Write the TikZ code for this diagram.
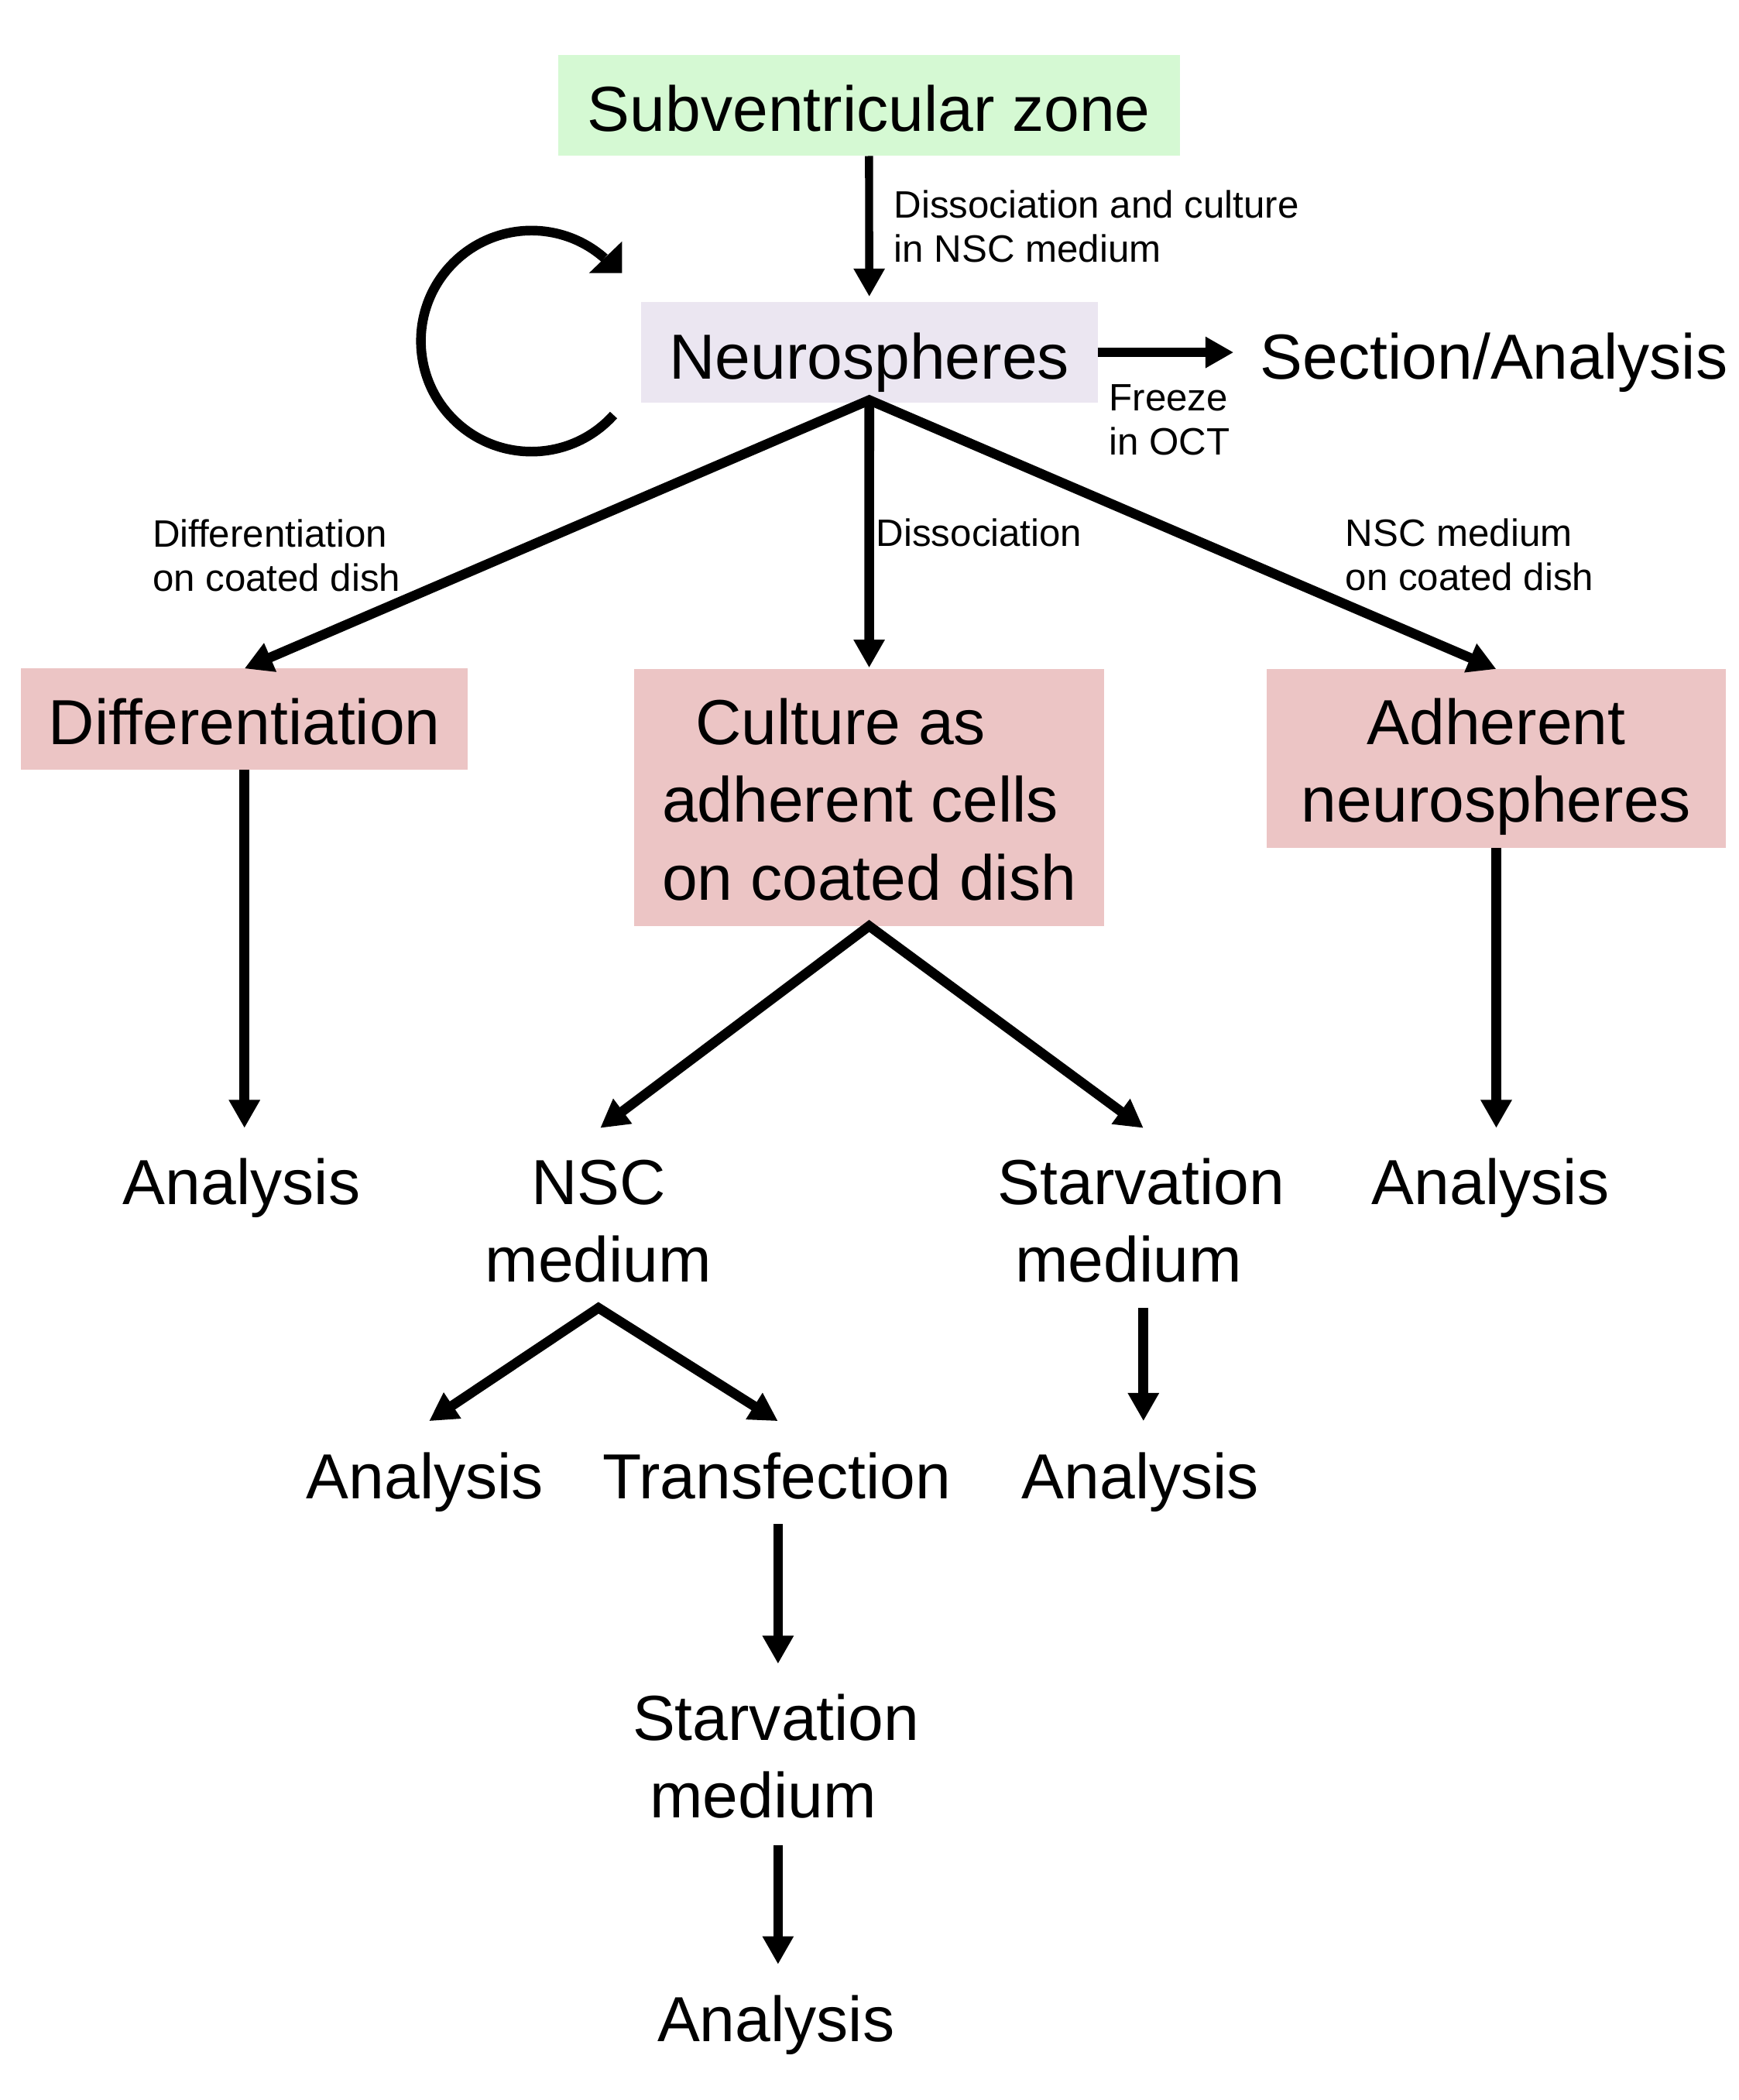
\documentclass[tikz,border=0pt]{standalone}
\usepackage{fontspec}
\setmainfont{Liberation Sans}
\usetikzlibrary{arrows.meta}
\definecolor{svzgreen}{HTML}{D5F9D3}
\definecolor{nslav}{HTML}{EBE6F1}
\definecolor{boxpink}{HTML}{ECC5C5}
\newcommand{\myBigFont}{\fontsize{47.6}{58}\selectfont}
\newcommand{\mySmallFont}{\fontsize{28.5}{33}\selectfont}
\newcommand{\cLines}[1]{\begin{tabular}[t]{@{}c@{}}#1\end{tabular}}
\newcommand{\lLines}[1]{\begin{tabular}[t]{@{}l@{}}#1\end{tabular}}
\begin{document}
\begin{tikzpicture}[x=1pt,y=-1pt,
  boxnode/.style={inner sep=0pt, outer sep=0pt, anchor=base, font=\myBigFont},
  bigtext/.style={inner sep=0pt, outer sep=0pt, anchor=base, font=\myBigFont},
  smalllabel/.style={inner sep=0pt, outer sep=0pt, anchor=base west, font=\mySmallFont},
  tipshape/.style={-{Triangle[length=21pt,width=22pt]}},
  bothtips/.style={{Triangle[length=21pt,width=22pt]}-{Triangle[length=21pt,width=22pt]}},
  thickline/.style={line width=7.3pt},
  thinline/.style={line width=6pt}
]
\useasboundingbox (0,0) rectangle (1299.7,1569.4);

% ---------- boxes ----------
\node[boxnode, fill=svzgreen, minimum width=465pt, text height=57.1pt, text depth=18.7pt]
  (svz) at (649.5,97.9) {Subventricular zone};
\node[boxnode, fill=nslav, minimum width=341.4pt, text height=57.3pt, text depth=18pt]
  (neuro) at (649.7,283) {Neurospheres};
\node[boxnode, fill=boxpink, minimum width=334.2pt, text height=56.9pt, text depth=18.9pt]
  (diff) at (182.7,556.5) {Differentiation};
\node[boxnode, fill=boxpink, minimum width=350.8pt, text height=56.5pt, text depth=135.5pt]
  (cult) at (649.6,556.5) {\lLines{\hspace*{25pt}Culture as\\adherent cells\\on coated dish}};
\node[boxnode, fill=boxpink, minimum width=343.4pt, text height=56.5pt, text depth=77.2pt]
  (adh) at (1118.3,556.5) {\cLines{Adherent\\neurospheres}};

% ---------- plain texts ----------
\node[bigtext, anchor=base west] (sec) at (942,283) {Section/Analysis};
\node[bigtext] (a1) at (180.6,900) {\strut Analysis};
\node[bigtext] (nsc) at (447.3,900) {\cLines{NSC\\medium}};
\node[bigtext] (starv) at (853,900) {\cLines{Starvation\\medium\hspace*{19.3pt}}};
\node[bigtext] (a2) at (1114,900) {\strut Analysis};
\node[bigtext] (a3) at (317.7,1120.2) {\strut Analysis};
\node[bigtext] (trans) at (580.5,1120.2) {\strut Transfection};
\node[bigtext] (a4) at (852.3,1120.2) {\strut Analysis};
\node[bigtext] (starv2) at (580,1300.4) {\cLines{Starvation\\medium\hspace*{19.6pt}}};
\node[bigtext] (a5) at (580,1525.7) {\strut Analysis};

% ---------- small labels ----------
\node[smalllabel] (l1) at (668.3,162.7) {\lLines{Dissociation and culture\\in NSC medium}};
\node[smalllabel] (l2) at (829,307.2) {\lLines{Freeze\\in OCT}};
\node[smalllabel] (l3) at (114,408.6) {\lLines{Differentiation\\on coated dish}};
\node[smalllabel] (l4) at (655,408) {Dissociation};
\node[smalllabel] (l5) at (1005.7,408) {\lLines{NSC medium\\on coated dish}};

% ---------- self-renewal loop ----------
\coordinate (loopc) at (397.2,254.9);
\draw[line width=7.2pt] (loopc) ++(42:82.6) arc[start angle=42, end angle=311.4, radius=82.6];
\fill (440.2,204.1) -- (464.9,180.4) -- (464.9,204.1) -- cycle;

% ---------- connectors ----------
\draw[thinline, tipshape] (svz.south) -- ([yshift=4pt]neuro.north);
\draw[thickline, tipshape, shorten >=20pt] (neuro.east) -- (neuro.east -| sec.west);
\draw[thickline, bothtips] (diff.north) -- ([yshift=2pt]neuro.south) -- (adh.north);
\draw[thickline, tipshape] ([yshift=2pt]neuro.south) -- ([yshift=1pt]cult.north);

\draw[thickline, tipshape, shorten >=16.4pt] (diff.south) -- (diff.south |- a1.north);
\draw[thickline, tipshape, shorten >=16.4pt] (adh.south) -- (adh.south |- a2.north);

\draw[thickline, bothtips] ([xshift=1.3pt,yshift=16.4pt]nsc.north) -- (cult.south)
  -- ([xshift=1.6pt,yshift=16.4pt]starv.north);
\draw[thickline, bothtips] ([xshift=3pt,yshift=17.6pt]a3.north) -- ([yshift=-2pt]nsc.south)
  -- ([xshift=0.9pt,yshift=17.6pt]trans.north);

\draw[thickline, tipshape, shorten <=2pt, shorten >=17.6pt]
  ([xshift=1.6pt]starv.south) -- ([xshift=1.6pt]starv.south |- a4.north);
\draw[thickline, tipshape, shorten <=1.4pt, shorten >=16.4pt]
  ([xshift=1pt]trans.south) -- ([xshift=1pt]trans.south |- starv2.north);
\draw[thickline, tipshape, shorten <=3pt, shorten >=17.1pt]
  ([xshift=1.5pt]starv2.south) -- ([xshift=1.5pt]starv2.south |- a5.north);
\end{tikzpicture}
\end{document}
